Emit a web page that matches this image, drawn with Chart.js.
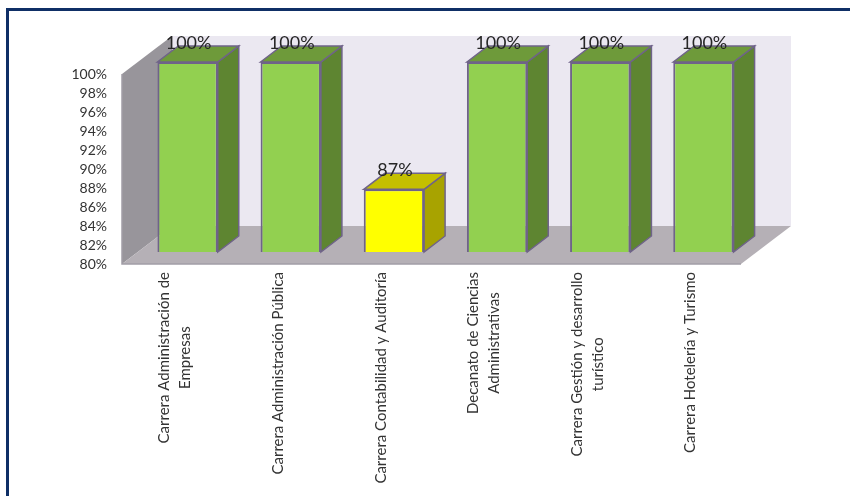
<!DOCTYPE html>
<html>
<head>
<meta charset="utf-8">
<script src="https://cdn.jsdelivr.net/npm/chart.js@4"></script>
<style>
html, body { margin: 0; padding: 0; background: #fff; overflow: hidden; }
#frame { position: absolute; left: 6px; top: 8px; width: 850px; height: 496px; border-left: 3px solid #0f2f66; border-top: 3px solid #0f2f66; }
canvas { position: absolute; left: 0; top: 0; }
</style>
</head>
<body>
<div id="frame"></div>
<canvas id="chart" width="850" height="496"></canvas>
<script>
// data
var categories = [
    ['Carrera Administración de', 'Empresas'],
    ['Carrera Administración Pública'],
    ['Carrera Contabilidad y Auditoría'],
    ['Decanato de Ciencias', 'Administrativas'],
    ['Carrera Gestión y desarrollo', 'turístico'],
    ['Carrera Hotelería y Turismo']
];
var values = [100, 100, 86.6, 100, 100, 100];
var yTicks = [80, 82, 84, 86, 88, 90, 92, 94, 96, 98, 100];

var frontColors = ['#92d050', '#92d050', '#ffff00', '#92d050', '#92d050', '#92d050'];
var topColors = ['#6e9a3a', '#6e9a3a', '#c4bf00', '#6e9a3a', '#6e9a3a', '#6e9a3a'];
var sideColors = ['#5e8531', '#5e8531', '#a8a300', '#5e8531', '#5e8531', '#5e8531'];
var edgeColor = '#6f6389';

// depth of the box behind the chart area and of each bar
var boxDepth = { x: 50, y: -38 };
var barDepth = { x: 21, y: -16 };
var barShift = { x: 14, y: -12 };

function poly(ctx, pts, fill, stroke) {
    ctx.beginPath();
    ctx.moveTo(pts[0][0], pts[0][1]);
    for (var i = 1; i < pts.length; i++) ctx.lineTo(pts[i][0], pts[i][1]);
    ctx.closePath();
    ctx.fillStyle = fill;
    ctx.fill();
    if (stroke) {
        ctx.strokeStyle = stroke;
        ctx.lineWidth = 1.5;
        ctx.stroke();
    }
}

var box3d = {
    id: 'box3d',
    beforeDatasetsDraw: function(chart) {
        var ctx = chart.ctx, a = chart.chartArea;
        var dx = boxDepth.x, dy = boxDepth.y;
        // back wall, left wall, floor
        poly(ctx, [[a.left + dx, a.top + dy], [a.right + dx, a.top + dy], [a.right + dx, a.bottom + dy], [a.left + dx, a.bottom + dy]], '#ebe8f1');
        poly(ctx, [[a.left, a.top], [a.left + dx, a.top + dy], [a.left + dx, a.bottom + dy], [a.left, a.bottom]], '#98959b');
        poly(ctx, [[a.left, a.bottom], [a.right, a.bottom], [a.right + dx, a.bottom + dy], [a.left + dx, a.bottom + dy]], '#b5b0b6');
        ctx.strokeStyle = '#a19da6';
        ctx.lineWidth = 1.5;
        ctx.beginPath();
        ctx.moveTo(a.left, a.top);
        ctx.lineTo(a.left, a.bottom);
        ctx.lineTo(a.right, a.bottom);
        ctx.stroke();

        ctx.save();
        ctx.translate(barShift.x, barShift.y);
        // top and side faces of every bar, the front comes from the library
        chart.getDatasetMeta(0).data.forEach(function(bar, i) {
            var l = bar.x - bar.width / 2, r = bar.x + bar.width / 2;
            var t = bar.y, b = bar.base;
            var bx = barDepth.x, by = barDepth.y;
            poly(ctx, [[r, t], [r + bx, t + by], [r + bx, b + by], [r, b]], sideColors[i], edgeColor);
            poly(ctx, [[l, t], [l + bx, t + by], [r + bx, t + by], [r, t]], topColors[i], edgeColor);
        });
    },
    afterDatasetsDraw: function(chart) {
        var ctx = chart.ctx;
        ctx.restore();

        // value labels
        ctx.save();
        ctx.font = '18px Lato';
        ctx.fillStyle = '#262626';
        ctx.textAlign = 'center';
        ctx.textBaseline = 'middle';
        chart.getDatasetMeta(0).data.forEach(function(bar, i) {
            ctx.fillText(values[i].toFixed(0) + '%', bar.x + barShift.x + 1, bar.y + barShift.y - 19);
        });
        ctx.restore();

        // category labels, rotated, lines centred on the longest one
        var xScale = chart.scales.x;
        ctx.save();
        ctx.font = '15px Lato';
        ctx.fillStyle = '#333333';
        ctx.textAlign = 'center';
        ctx.textBaseline = 'middle';
        categories.forEach(function(lines, i) {
            var maxW = 0;
            lines.forEach(function(s) { maxW = Math.max(maxW, ctx.measureText(s).width); });
            var lineH = 21;
            ctx.save();
            ctx.translate(xScale.getPixelForTick(i) + 1, chart.chartArea.bottom + 8 + maxW / 2);
            ctx.rotate(-Math.PI / 2);
            lines.forEach(function(s, k) {
                ctx.fillText(s, 0, (k - (lines.length - 1) / 2) * lineH);
            });
            ctx.restore();
        });
        ctx.restore();
    }
};

new Chart(document.getElementById('chart').getContext('2d'), {
    type: 'bar',
    data: {
        labels: categories,
        datasets: [{
            data: values,
            base: 80,
            clip: false,
            backgroundColor: frontColors,
            borderColor: edgeColor,
            borderWidth: 2,
            barPercentage: 0.585,
            categoryPercentage: 1
        }]
    },
    options: {
        responsive: false,
        animation: false,
        layout: { padding: { top: 74, right: 109, left: 0, bottom: 0 } },
        plugins: { legend: { display: false }, tooltip: { enabled: false } },
        scales: {
            x: {
                grid: { display: false },
                border: { display: false },
                ticks: { display: false },
                afterFit: function(scale) { scale.height = 232; }
            },
            y: {
                min: 80,
                max: 100,
                grid: { display: false, drawTicks: false },
                border: { display: false },
                afterBuildTicks: function(scale) {
                    scale.ticks = yTicks.map(function(v) { return { value: v }; });
                },
                ticks: {
                    autoSkip: false,
                    padding: 15,
                    color: '#333333',
                    font: { family: 'Lato', size: 14 },
                    callback: function(v) { return v + '%'; }
                },
                afterFit: function(scale) { scale.width = 122; }
            }
        }
    },
    plugins: [box3d]
});
</script>
</body>
</html>
